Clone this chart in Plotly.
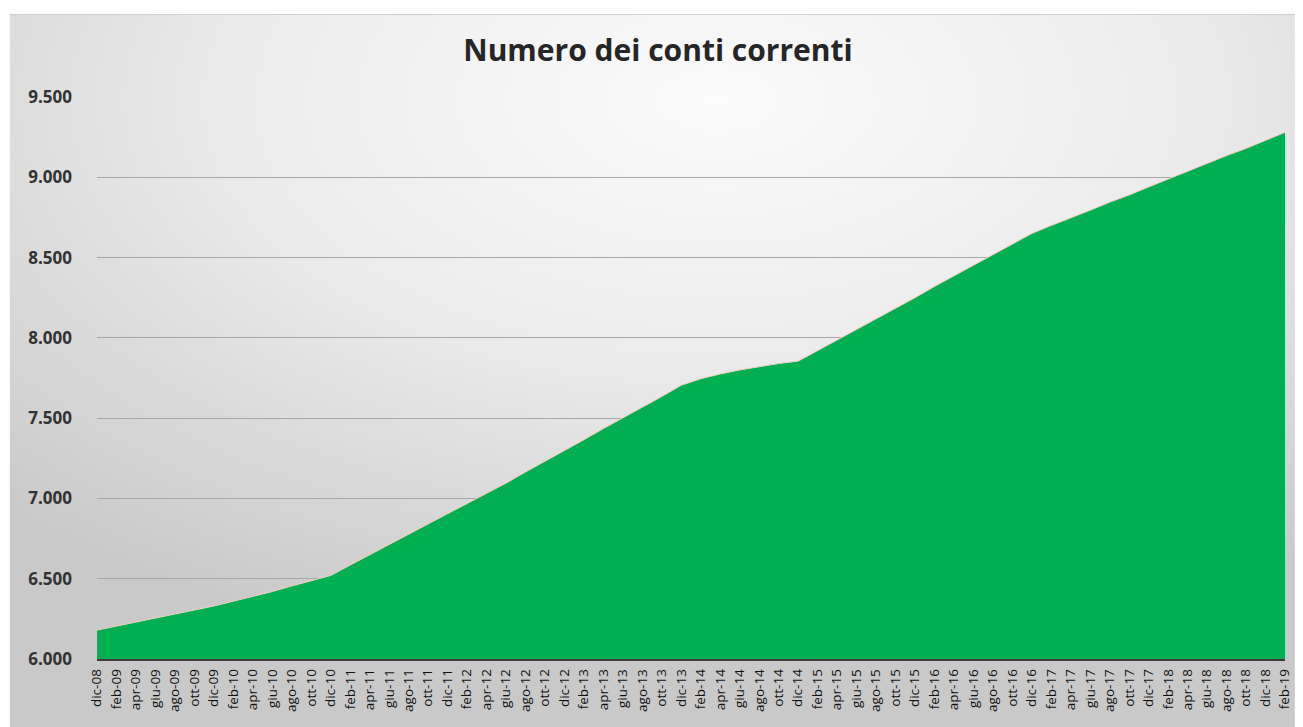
import base64
import plotly.graph_objects as go

categories = [
    "dic-08", "feb-09", "apr-09", "giu-09", "ago-09", "ott-09",
    "dic-09", "feb-10", "apr-10", "giu-10", "ago-10", "ott-10",
    "dic-10", "feb-11", "apr-11", "giu-11", "ago-11", "ott-11",
    "dic-11", "feb-12", "apr-12", "giu-12", "ago-12", "ott-12",
    "dic-12", "feb-13", "apr-13", "giu-13", "ago-13", "ott-13",
    "dic-13", "feb-14", "apr-14", "giu-14", "ago-14", "ott-14",
    "dic-14", "feb-15", "apr-15", "giu-15", "ago-15", "ott-15",
    "dic-15", "feb-16", "apr-16", "giu-16", "ago-16", "ott-16",
    "dic-16", "feb-17", "apr-17", "giu-17", "ago-17", "ott-17",
    "dic-17", "feb-18", "apr-18", "giu-18", "ago-18", "ott-18",
    "dic-18", "feb-19",
]

conti_correnti = [
    6180, 6205, 6230, 6255, 6280, 6305,
    6330, 6360, 6390, 6420, 6455, 6487,
    6520, 6585, 6650, 6712, 6775, 6840,
    6905, 6968, 7030, 7095, 7165, 7230,
    7300, 7365, 7435, 7500, 7570, 7635,
    7705, 7745, 7775, 7800, 7820, 7840,
    7855, 7920, 7985, 8050, 8120, 8185,
    8250, 8320, 8385, 8450, 8520, 8585,
    8650, 8700, 8745, 8795, 8845, 8890,
    8940, 8990, 9035, 9085, 9135, 9180,
    9230, 9280,
]

y_ticks = [6000, 6500, 7000, 7500, 8000, 8500, 9000, 9500]
title_text = "Numero dei conti correnti"

# page body adds an 8px offset; target pixel positions are compensated
OFF = 8
W, H = 1303 - OFF, 727 - OFF
ML, MR, MT, MB = 97 - OFF, 10, 97 - OFF, 68
pw, ph = W - ML - MR, H - MT - MB

svg = (
    '<svg xmlns="http://www.w3.org/2000/svg" width="1294" height="713" '
    'preserveAspectRatio="none">'
    '<defs><radialGradient id="g" cx="55%" cy="12%" r="80%">'
    '<stop offset="0%" stop-color="#fbfbfb"/>'
    '<stop offset="45%" stop-color="#ececec"/>'
    '<stop offset="100%" stop-color="#c9c9c9"/>'
    '</radialGradient></defs>'
    '<rect width="1294" height="713" fill="url(#g)"/>'
    '<line x1="0" y1="0.5" x2="1294" y2="0.5" stroke="#d0d0d0" stroke-width="1"/>'
    '</svg>'
)
svg_uri = "data:image/svg+xml;base64," + base64.b64encode(svg.encode()).decode()

px0, px1 = 9 - OFF, W
py0, py1 = 14 - OFF, H
img_x = (px0 - ML) / pw
img_sx = (px1 - px0) / pw
img_y = (H - MB - py0) / ph
img_sy = (py1 - py0) / ph

fig = go.Figure()
fig.add_trace(go.Scatter(
    x=categories,
    y=conti_correnti,
    mode="lines",
    fill="tozeroy",
    fillcolor="#00B050",
    line=dict(color="#f2cfc6", width=1),
    hoverinfo="x+y",
))

fig.update_layout(
    width=W, height=H,
    margin=dict(l=ML, r=MR, t=MT, b=MB),
    paper_bgcolor="white",
    plot_bgcolor="rgba(0,0,0,0)",
    separators=",.",
    showlegend=False,
    title=dict(
        text=title_text,
        x=(658 - OFF) / W, xref="container", xanchor="center",
        y=1 - (50 - OFF) / H, yref="container", yanchor="middle",
        font=dict(family="Open Sans", size=30, color="#262626", weight="bold"),
    ),
    font=dict(family="Open Sans", color="#262626"),
    images=[dict(
        source=svg_uri, xref="paper", yref="paper",
        x=img_x, y=img_y, sizex=img_sx, sizey=img_sy,
        xanchor="left", yanchor="top", sizing="stretch", layer="below",
    )],
    xaxis=dict(
        type="category",
        categoryorder="array", categoryarray=categories,
        range=[0, len(categories) - 1],
        tickangle=-90,
        tickfont=dict(family="Open Sans", size=13.5, color="#111111"),
        showgrid=False,
        showline=True, linecolor="#3a3a3a", linewidth=1.5,
        ticks="", ticklabelstandoff=3,
        fixedrange=True,
    ),
    yaxis=dict(
        range=[6000, 9500],
        tickvals=y_ticks,
        tickformat=",d",
        tickfont=dict(family="Open Sans", size=17, color="#333333", weight="bold"),
        showgrid=True, gridcolor="#a8a8a8", gridwidth=1,
        zeroline=False, showline=False,
        ticks="", ticklabelstandoff=24,
        fixedrange=True,
    ),
)

fig.write_html("out.html")
